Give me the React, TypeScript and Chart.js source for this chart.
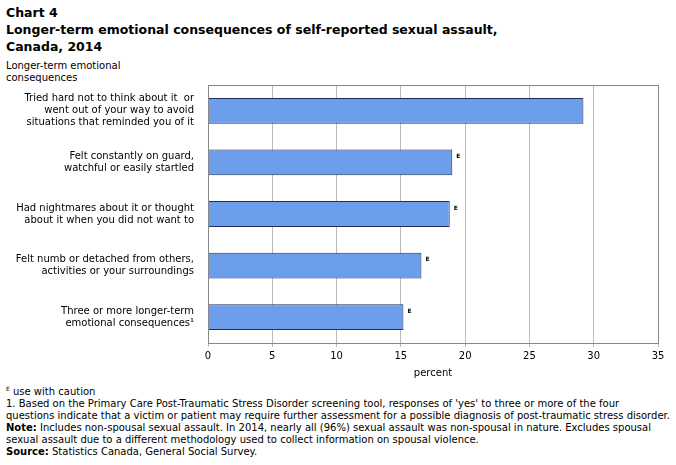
import React, { useEffect, useRef } from "react";
import { Chart, registerables } from "chart.js";
Chart.register(...registerables);

const categories: string[][] = [
  ["Tried hard not to think about it  or", "went out of your way to avoid", "situations that reminded you of it"],
  ["Felt constantly on guard,", "watchful or easily startled"],
  ["Had nightmares about it or thought", "about it when you did not want to"],
  ["Felt numb or detached from others,", "activities or your surroundings"],
  ["Three or more longer-term", "emotional consequences\u00b9"],
];
const values = [29.2, 19.0, 18.8, 16.6, 15.2];
const flags = ["", "E", "E", "E", "E"];
const FONT = "Verdana, 'DejaVu Sans', sans-serif";

export default function App() {
  const ref = useRef<HTMLCanvasElement>(null);
  useEffect(() => {
    const flagPlugin = {
      id: "flags",
      afterDatasetsDraw(chart: any) {
        const ctx = chart.ctx;
        const meta = chart.getDatasetMeta(0);
        ctx.save();
        ctx.font = `bold 6px ${FONT}`;
        ctx.fillStyle = "#000";
        ctx.textBaseline = "bottom";
        meta.data.forEach((b: any, i: number) => {
          if (flags[i]) ctx.fillText(flags[i], b.x + 4, b.y - 3);
        });
        ctx.restore();
      },
    };
    const chart = new Chart(ref.current!, {
      type: "bar",
      data: {
        labels: categories,
        datasets: [{
          data: values,
          backgroundColor: "#6d9eeb",
          borderColor: "#1f2f5a",
          borderWidth: 1,
          barPercentage: 0.5,
          categoryPercentage: 1,
        }],
      },
      options: {
        indexAxis: "y",
        animation: false,
        responsive: false,
        layout: { padding: { top: 2, right: 18, left: 0, bottom: 0 } },
        plugins: { legend: { display: false }, tooltip: { enabled: false } },
        scales: {
          x: {
            min: 0, max: 35,
            ticks: { stepSize: 5, color: "#000", font: { family: FONT, size: 10 } },
            grid: { color: "#bbb", drawTicks: true, tickLength: 4 },
            border: { color: "#888" },
            title: { display: true, text: "percent", color: "#000", font: { family: FONT, size: 10 }, padding: 0 },
            afterFit: (s: any) => { s.height = 36; },
          },
          y: {
            ticks: { color: "#000", font: { family: FONT, size: 10 }, padding: 6 },
            grid: { display: false },
            border: { color: "#888" },
            afterFit: (s: any) => { s.width = 208; },
          },
        },
      },
      plugins: [flagPlugin, {
        id: "box",
        afterDraw(chart: any) {
          const { ctx, chartArea: a } = chart;
          ctx.save(); ctx.strokeStyle = "#888"; ctx.lineWidth = 1;
          ctx.strokeRect(a.left + 0.5, a.top + 0.5, a.right - a.left, a.bottom - a.top);
          ctx.restore();
        },
      }],
    });
    return () => chart.destroy();
  }, []);
  const t: React.CSSProperties = { fontFamily: FONT, fontSize: 10, color: "#000", lineHeight: "12px" };
  return (
    <div style={{ position: "absolute", left: 0, top: 0, width: 676, height: 465, background: "#fff" }}>
      <div style={{ position: "absolute", left: 6, top: 4, fontFamily: FONT, fontWeight: "bold", fontSize: 12.5, lineHeight: "17px" }}>
        Chart 4<br />Longer-term emotional consequences of self-reported sexual assault,<br />Canada, 2014
      </div>
      <div style={{ ...t, position: "absolute", left: 6, top: 60 }}>Longer-term emotional<br />consequences</div>
      <canvas ref={ref} width={676} height={312} style={{ position: "absolute", left: 0, top: 67 }} />
      <div style={{ ...t, position: "absolute", left: 6, top: 383, width: 664 }}>
        <div><sup style={{ fontSize: 6 }}>E</sup> use with caution</div>
        <div>1. Based on the Primary Care Post-Traumatic Stress Disorder screening tool, responses of 'yes' to three or more of the four questions indicate that a victim or patient may require further assessment for a possible diagnosis of post-traumatic stress disorder.</div>
        <div><b>Note:</b> Includes non-spousal sexual assault. In 2014, nearly all (96%) sexual assault was non-spousal in nature. Excludes spousal sexual assault due to a different methodology used to collect information on spousal violence.</div>
        <div><b>Source:</b> Statistics Canada, General Social Survey.</div>
      </div>
    </div>
  );
}
